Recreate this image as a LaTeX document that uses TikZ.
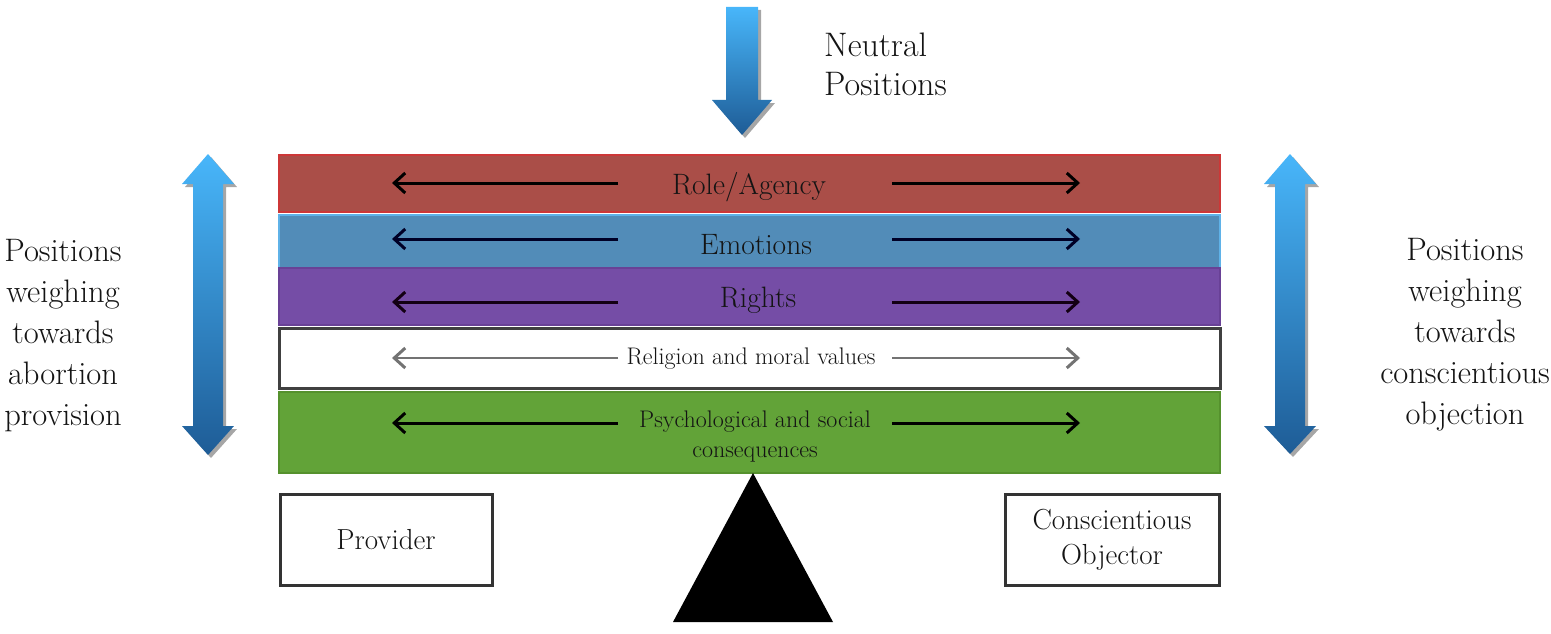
\documentclass[tikz,border=0pt]{standalone}
\usepackage{fontspec}
\usetikzlibrary{arrows.meta,shadows}
\definecolor{bandred}{RGB}{170,78,72}
\definecolor{bandredline}{RGB}{205,55,55}
\definecolor{bandblue}{RGB}{82,140,184}
\definecolor{bandblueline}{RGB}{95,178,232}
\definecolor{bandpurple}{RGB}{117,77,166}
\definecolor{bandpurpleline}{RGB}{105,65,150}
\definecolor{bandgreen}{RGB}{98,163,56}
\definecolor{bandgreenline}{RGB}{85,145,45}
\definecolor{arrowtop}{RGB}{72,182,250}
\definecolor{arrowbot}{RGB}{30,92,150}
\definecolor{txt}{RGB}{20,20,20}
\begin{document}
\begin{tikzpicture}[x=1pt,y=-1pt,
  band/.style={rectangle,minimum width=941pt,inner sep=0pt,line width=1.5pt},
  lbl/.style={text=txt,font=\fontsize{29.5}{33}\selectfont,inner sep=0pt},
  smalllbl/.style={text=txt,font=\fontsize{24}{30}\selectfont,inner sep=0pt,align=center},
  side/.style={text=txt,font=\fontsize{32.5}{41}\selectfont,align=center,inner sep=0pt},
  roleframe/.style={draw=black!80,line width=3pt,fill=white,minimum width=#1,minimum height=91pt,inner sep=0pt,
     font=\fontsize{29}{35}\selectfont,text=txt,align=center},
  harrow/.style={-{Straight Barb[length=11pt,width=20pt,line width=3pt]},line width=3pt},
  bluearrow/.style={top color=arrowtop,bottom color=arrowbot,draw=none,
     drop shadow={shadow xshift=3pt,shadow yshift=-3pt,opacity=0.35,fill=black}}
]
\useasboundingbox (0,0) rectangle (1551,634);

% bands
\node[band,draw=bandredline,fill=bandred,minimum height=57pt] (role) at (749.5,183.5) {};
\node[band,draw=bandblueline,fill=bandblue,minimum height=53pt] (emo) at (749.5,241.5) {};
\node[band,draw=bandpurpleline,fill=bandpurple,minimum height=57pt] (rights) at (749.5,296.5) {};
\node[band,draw=black!75,fill=white,line width=3pt,minimum height=60pt] (relig) at (749.5,358) {};
\node[band,draw=bandgreenline,fill=bandgreen,minimum height=81pt] (psych) at (749.5,432.5) {};

% labels
\node[lbl] (roleL) at (749,187) {Role/Agency};
\node[lbl] (emoL) at (756,245) {Emotions};
\node[lbl] (rightsL) at (758,300) {Rights};
\node[smalllbl] (religL) at (751,359) {Religion and moral values};
\node[smalllbl] (psychL) at (755,437) {Psychological and social\\consequences};

% horizontal arrows
\foreach \n/\y in {r/183, e/239, p/302, m/358, g/423}{
  \coordinate (\n L1) at (618,\y);
  \coordinate (\n L2) at (392,\y);
  \coordinate (\n R1) at (892,\y);
  \coordinate (\n R2) at (1080,\y);
}
\draw[harrow] (rL1) -- (rL2);
\draw[harrow] (rR1) -- (rR2);
\draw[harrow,draw=black!85!blue] (eL1) -- (eL2);
\draw[harrow,draw=black!85!blue] (eR1) -- (eR2);
\draw[harrow,draw=black!85!violet] (pL1) -- (pL2);
\draw[harrow,draw=black!85!violet] (pR1) -- (pR2);
\draw[harrow,draw=black!55,line width=2.5pt] (mL1) -- (mL2);
\draw[harrow,draw=black!55,line width=2.5pt] (mR1) -- (mR2);
\draw[harrow] (gL1) -- (gL2);
\draw[harrow] (gR1) -- (gR2);

% fulcrum
\fill[black] (753,473) -- (833,622) -- (673,622) -- cycle;

% boxes
\node[roleframe=212pt] (provider) at (386,540) {Provider};
\node[roleframe=214pt] (objector) at (1112,540) {Conscientious\\Objector};

% blue arrows
\path[bluearrow] (726,7) -- (758,7) -- (758,100) -- (772,100) -- (742,135) -- (712,100) -- (726,100) -- cycle;
\path[bluearrow] (208,154) -- (234,184) -- (223,184) -- (223,426) -- (234,426) -- (208,455)
   -- (182,426) -- (193,426) -- (193,184) -- (182,184) -- cycle;
\path[bluearrow] (1290,154) -- (1316,184) -- (1305,184) -- (1305,426) -- (1316,426) -- (1290,454)
   -- (1264,426) -- (1275,426) -- (1275,184) -- (1264,184) -- cycle;

% side texts
\node[side] (lefttxt) at (63,336) {Positions\\weighing\\towards\\abortion\\provision};
\node[side] (righttxt) at (1465,335) {Positions\\weighing\\towards\\conscientious\\objection};
\node[side,align=left,anchor=west,font=\fontsize{34}{39}\selectfont] (neutral) at (824,64) {Neutral\\Positions};
\end{tikzpicture}
\end{document}
